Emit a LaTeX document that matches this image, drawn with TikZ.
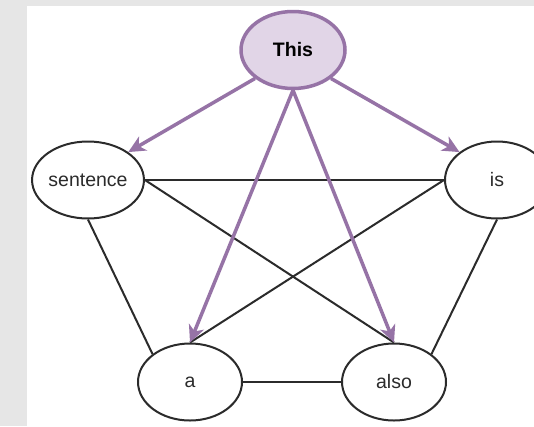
\documentclass[tikz,border=0pt]{standalone}
\usepackage{fontspec}
\setmainfont{Liberation Sans}
\usetikzlibrary{shapes.geometric,arrows.meta}
\definecolor{pageGray}{HTML}{E6E6E6}
\definecolor{lilacFill}{HTML}{E1D5E7}
\definecolor{lilacLine}{HTML}{9673A6}
\definecolor{inkGray}{HTML}{2B2B2B}
\begin{document}
\begin{tikzpicture}[x=1pt,y=-1pt,
  word/.style={ellipse, draw=inkGray, line width=2pt, fill=white,
    minimum width=104pt, minimum height=77pt, inner sep=0pt,
    font=\fontsize{19.5}{22}\selectfont, text=inkGray},
  rootword/.style={word, draw=lilacLine, fill=lilacFill, line width=3.5pt,
    text=black, font=\fontsize{19.5}{22}\selectfont\bfseries},
  link/.style={draw=inkGray, line width=2pt},
  pointer/.style={draw=lilacLine, line width=3.5pt,
    -{Stealth[length=17pt, width=16pt, inset=5pt]}}]
  % canvas
  \useasboundingbox (0,0) rectangle (534,426);
  \fill[pageGray] (0,0) rectangle (534,426);
  \fill[white] (27,6) rectangle (534,426);
  \clip (0,0) rectangle (534,426);

  % words
  \node[rootword] (this) at (293,50) {This};
  \node[word] (sentence) at (88,180) {sentence};
  \node[word] (is) at (497,180) {is};
  \node[word] (a) at (190,382) {a};
  \node[word] (also) at (394,382) {also};

  % undirected links
  \draw[link] (sentence.east) -- (is.west);
  \draw[link] (sentence.east) -- (also.north);
  \draw[link] (is.west) -- (a.north);
  \draw[link] (sentence.south) -- (a.north west);
  \draw[link] (is.south) -- (also.north east);
  \draw[link] (a.east) -- (also.west);

  % directed links from the root
  \draw[pointer] (this.south west) -- (sentence.north east);
  \draw[pointer] (this.south east) -- (is.north west);
  \draw[pointer] (this.south) -- (a.north);
  \draw[pointer] (this.south) -- (also.north);
\end{tikzpicture}
\end{document}
